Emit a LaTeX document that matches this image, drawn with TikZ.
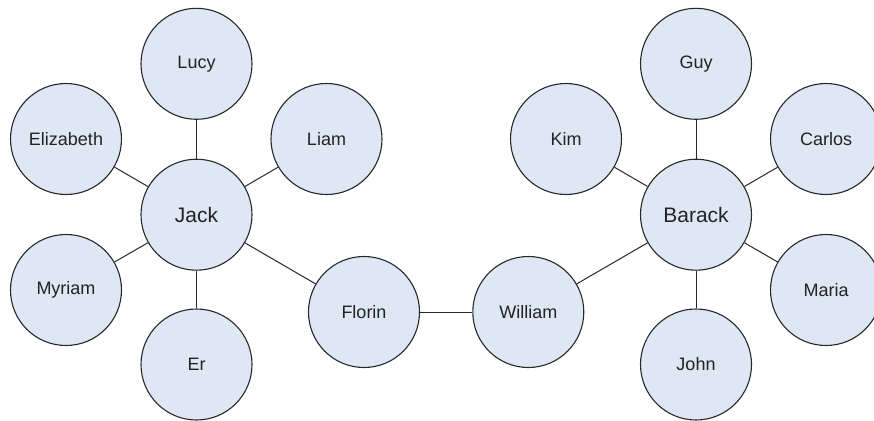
\documentclass[tikz,border=0pt]{standalone}
\usepackage{fontspec}
\setmainfont{Liberation Sans}
\definecolor{nodefill}{RGB}{222,231,244}
\definecolor{nodeline}{RGB}{40,40,40}
\definecolor{txt}{RGB}{35,35,35}
\tikzset{
  person/.style={circle, draw=nodeline, fill=nodefill, line width=1.1pt, minimum size=111pt, inner sep=0pt, text=txt, font=\fontsize{18}{21}\selectfont},
  hub/.style={person, font=\fontsize{21}{25}\selectfont},
  link/.style={draw=nodeline, line width=1pt}
}
\begin{document}
\begin{tikzpicture}[x=1pt,y=-1pt]
\useasboundingbox (0,0) rectangle (874,420);
\clip (0,0) rectangle (874,420);
\node[hub] (jack) at (196.5,214.7) {Jack};
\node[person] (lucy) at (196.5,63.8) {Lucy};
\node[person] (elizabeth) at (66,139) {Elizabeth};
\node[person] (liam) at (326.5,139) {Liam};
\node[person] (myriam) at (66,290) {Myriam};
\node[person] (er) at (196.5,364.5) {Er};
\node[person] (florin) at (364,312) {Florin};
\node[person] (william) at (528.3,312) {William};
\node[hub] (barack) at (696,214.7) {Barack};
\node[person] (guy) at (696,63.8) {Guy};
\node[person] (kim) at (566,139) {Kim};
\node[person] (carlos) at (826,139) {Carlos};
\node[person] (maria) at (826,290) {Maria};
\node[person] (john) at (696,364.5) {John};
\path[link] (jack) -- (lucy);
\path[link] (jack) -- (elizabeth);
\path[link] (jack) -- (liam);
\path[link] (jack) -- (myriam);
\path[link] (jack) -- (er);
\path[link] (jack) -- (florin);
\path[link] (florin) -- (william);
\path[link] (william) -- (barack);
\path[link] (barack) -- (guy);
\path[link] (barack) -- (kim);
\path[link] (barack) -- (carlos);
\path[link] (barack) -- (maria);
\path[link] (barack) -- (john);
\end{tikzpicture}
\end{document}
